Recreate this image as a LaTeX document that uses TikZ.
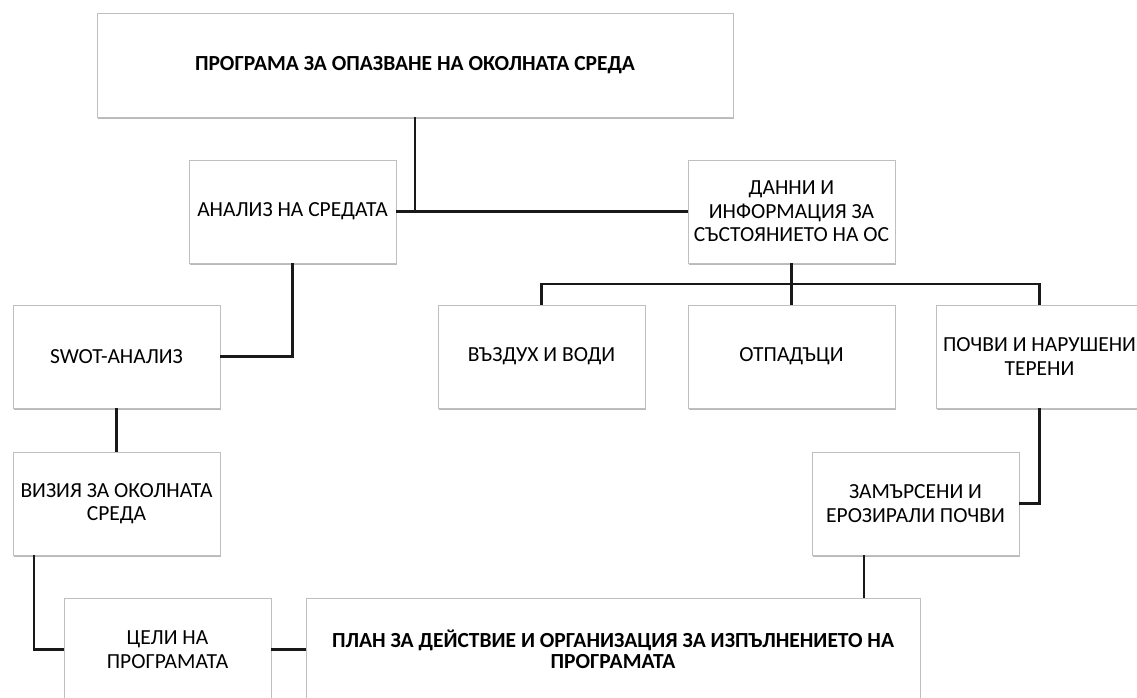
\documentclass[tikz,border=0pt]{standalone}
\usepackage{fontspec}
\setmainfont{Carlito}
\usetikzlibrary{shadows}

\begin{document}
\begin{tikzpicture}[x=1pt, y=1pt,
  every node/.style = {shape=rectangle, draw=black!25, fill=white,
    align=center, inner sep=0pt,
    font=\fontsize{21.5}{23.5}\selectfont,
    drop shadow={shadow xshift=0.8pt, shadow yshift=-2.2pt, fill=black!55}},
  box/.style  = {minimum width=207pt, minimum height=103pt},
  wide/.style = {minimum height=103pt, font=\fontsize{21.5}{21}\selectfont\bfseries},
  link/.style = {line width=2.2pt, black!90}]
  \useasboundingbox (0,0) rectangle (1137,698);

  \node[wide, minimum width=636pt, minimum height=104pt] (program) at (415,633)
    {ПРОГРАМА ЗА ОПАЗВАНЕ НА ОКОЛНАТА СРЕДА};

  \node[box] (analiz) at (292.5,486.5) {АНАЛИЗ НА СРЕДАТА};
  \node[box] (danni)  at (791.5,486.5) {ДАННИ И\\ИНФОРМАЦИЯ ЗА\\СЪСТОЯНИЕТО НА ОС};

  \node[box] (swot)     at (116.5,341.5)  {SWOT-АНАЛИЗ};
  \node[box] (vazduh)   at (541.5,341.5)  {ВЪЗДУХ И ВОДИ};
  \node[box] (otpadaci) at (791.5,341.5)  {ОТПАДЪЦИ};
  \node[box] (pochvi)   at (1039.5,341.5) {ПОЧВИ И НАРУШЕНИ\\ТЕРЕНИ};

  \node[box] (vizia) at (116.5,194.5) {ВИЗИЯ ЗА ОКОЛНАТА\\СРЕДА};
  \node[box] (zamar) at (915.5,194.5) {ЗАМЪРСЕНИ И\\ЕРОЗИРАЛИ ПОЧВИ};

  \node[box] (celi) at (167.5,48.5) {ЦЕЛИ НА\\ПРОГРАМАТА};
  \node[wide, minimum width=614pt] (plan) at (613,48.5)
    {ПЛАН ЗА ДЕЙСТВИЕ И ОРГАНИЗАЦИЯ ЗА ИЗПЪЛНЕНИЕТО НА\\ПРОГРАМАТА};

  \draw[link] (analiz.east) -- (danni.west);
  \draw[link] (program.south) -- (program.south |- analiz.east);
  \draw[link] (danni.south) -- (otpadaci.north);
  \draw[link] (vazduh.north) -- ++(0,21) -| (pochvi.north);
  \draw[link] (analiz.south) |- (swot.east);
  \draw[link] (swot.south) -- (vizia.north);
  \draw[link] ([xshift=21pt]vizia.south west) |- (celi.west);
  \draw[link] (celi.east) -- (plan.west);
  \draw[link] (pochvi.south) |- (zamar.east);
  \draw[link] ([xshift=52pt]zamar.south west) -- ([xshift=52pt]zamar.south west |- plan.north);
\end{tikzpicture}
\end{document}
